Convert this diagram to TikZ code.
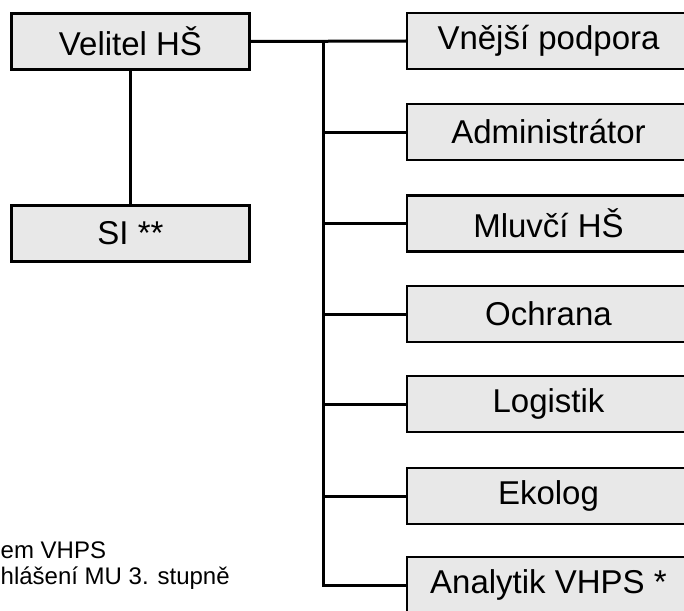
\documentclass[tikz,border=0pt]{standalone}
\usepackage{fontspec}
\setmainfont{Liberation Sans}
\begin{document}
\begin{tikzpicture}[x=1pt,y=-1pt,
  unit/.style={draw=black, line width=2.4pt, fill=gray!18, rectangle,
    minimum height=56pt, inner sep=0pt, font=\fontsize{33}{38}\selectfont},
  leftunit/.style={unit, minimum width=238pt},
  rightunit/.style={unit, minimum width=283pt},
  link/.style={line width=3pt},
  note/.style={anchor=base west, inner sep=0pt, font=\fontsize{24}{27}\selectfont}]
\useasboundingbox (0,0) rectangle (684,610);
\clip (0,0) rectangle (684,610);

% command line on the left
\node[leftunit] (vel) at (130.5,41.5) {Velitel HŠ};
\node[leftunit] (si)  at (130.5,233.5) {SI **};

% specialists on the right
\node[rightunit] (vp)  at (548.5,41)  {Vnější podpora};
\node[rightunit] (adm) at (548.5,132) {Administrátor};
\node[rightunit] (mlu) at (548.5,223.5) {Mluvčí HŠ};
\node[rightunit] (och) at (548.5,314) {Ochrana};
\node[rightunit] (log) at (548.5,404) {Logistik};
\node[rightunit] (eko) at (548.5,496) {Ekolog};
\node[rightunit] (ana) at (548.5,585) {Analytik VHPS *};

% branch point on the trunk
\coordinate (top) at (323,41);
\coordinate (bot) at (323,585);

\draw[link] (vel.south) -- (si.north);
\draw[link] (vel.east) -- (vp.west);
\draw[link] (top) -- (bot) -- (ana.west);
\foreach \n in {adm,mlu,och,log,eko}
  \draw[link] (\n.west -| top) -- (\n.west);

% footnotes
\node[note] (n1) at (0.5,558) {em VHPS};
\node[note] (n2) at (0.5,584) {hlášení MU 3. stupně};
\end{tikzpicture}
\end{document}
